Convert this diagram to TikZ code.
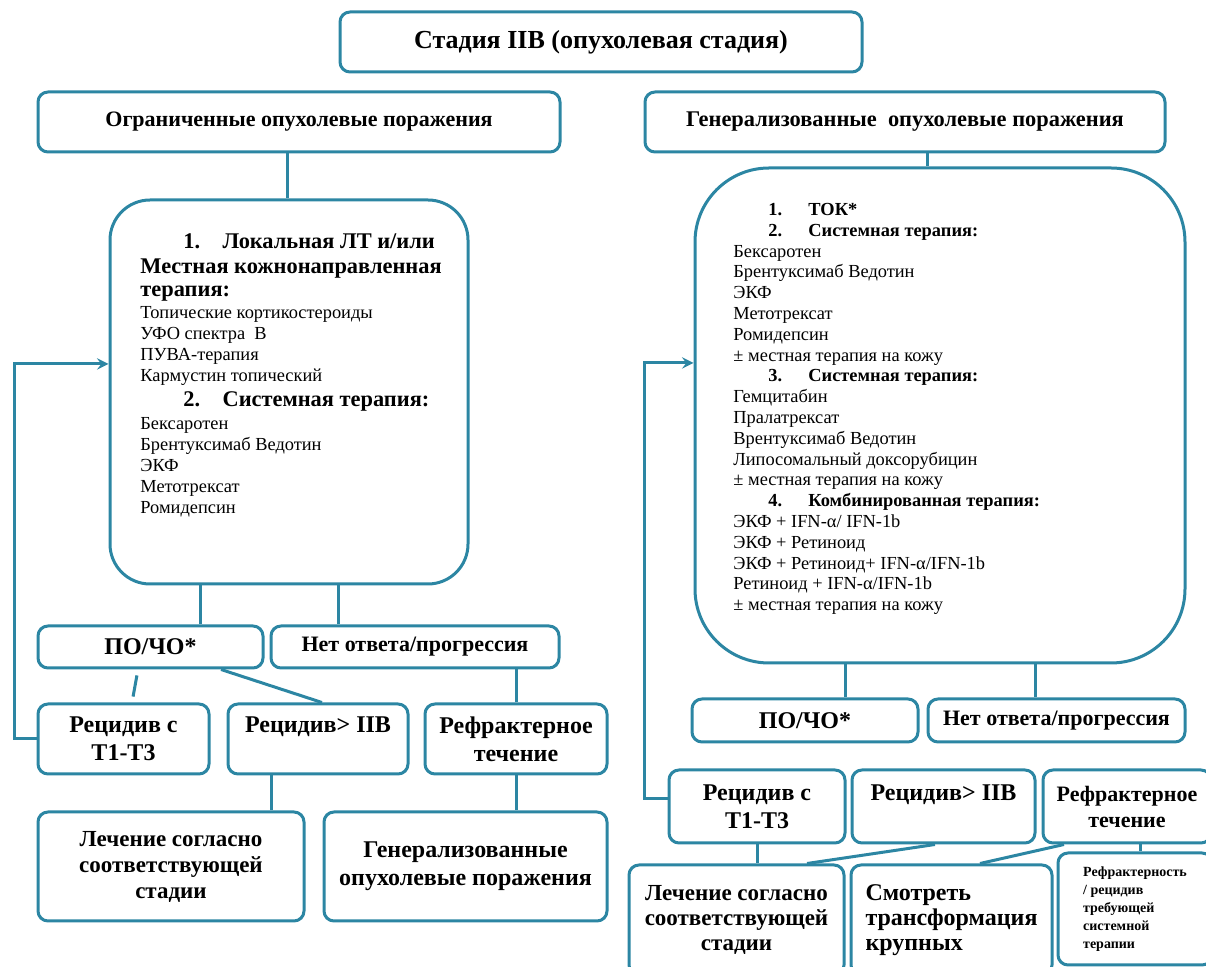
\documentclass[tikz,border=0pt]{standalone}
\usepackage{fontspec}
\setmainfont{Liberation Serif}
\usepackage{xcolor}
\usepackage{tikz}
\usetikzlibrary{shapes, arrows, positioning}

\definecolor{boxline}{RGB}{44,134,163}
\newcommand{\headline}[1]{{\fontsize{11.2}{12}\selectfont\bfseries #1}}
\newcommand{\tightlines}{\lineskiplimit=-10pt\relax}

\begin{document}
\begin{tikzpicture}[
        x=0.5pt, y=-0.5pt,
        box/.style={rectangle, draw=boxline, line width=1.5pt, fill=white, rounded corners=5pt, align=center, inner sep=2pt, font=\fontsize{12}{14}\selectfont\bfseries},
        bigbox/.style={box, rounded corners=20pt},
        listtext/.style={align=left, inner sep=0pt, anchor=north west},
        link/.style={draw=boxline, line width=1.5pt},
        arrow/.style={link, ->, >=stealth}
    ]
    \useasboundingbox (0,0) rectangle (1206,967);

    \node [box, minimum width=261pt, minimum height=30pt, font=\fontsize{13}{15}\selectfont\bfseries] (stage) at (601,42) {Стадия IIB (опухолевая стадия)};
    \node [box, minimum width=261pt, minimum height=30pt, font=\fontsize{11}{13}\selectfont\bfseries] (limited) at (299,122) {Ограниченные опухолевые поражения};
    \node [box, minimum width=260pt, minimum height=30pt, font=\fontsize{11.2}{13}\selectfont\bfseries] (general) at (905,122) {Генерализованные\ \ опухолевые поражения};

    % left branch
    \node [bigbox, minimum width=179pt, minimum height=192pt] (lbig) at (289,392) {};
    \node [listtext, font=\fontsize{9.2}{10.5}\selectfont\tightlines] (llist) at (140,233) {%
        \hspace*{21.5pt}\headline{1.\hspace{1em}Локальная ЛТ и/или}\\[2pt]
        \headline{Местная кожнонаправленная}\\[1pt]
        \headline{терапия:}\\[0.5pt]
        Топические кортикостероиды\\
        УФО спектра\ \ В\\
        ПУВА-терапия\\
        Кармустин топический\\[2pt]
        \hspace*{21.5pt}\headline{2.\hspace{1em}Системная терапия:}\\[1pt]
        Бексаротен\\
        Брентуксимаб Ведотин\\
        ЭКФ\\
        Метотрексат\\
        Ромидепсин};

    \node [box, minimum width=112.5pt, minimum height=21pt] (lpo) at (150.5,647) {ПО/ЧО*};
    \node [box, minimum width=144pt, minimum height=21pt, font=\fontsize{11}{13}\selectfont\bfseries] (lno) at (415,647) {Нет ответа/прогрессия};

    \node [box, minimum width=85.5pt, minimum height=35pt] (lrec) at (123.5,739) {Рецидив с\\T1-T3};
    \node [box, minimum width=90pt, minimum height=35pt] (lrecb) at (318,739) {Рецидив> IIB\\ \mbox{}};
    \node [box, minimum width=91pt, minimum height=35pt] (lref) at (516,739) {Рефрактерное\\течение};

    \node [box, minimum width=133pt, minimum height=54.5pt, font=\fontsize{11.5}{13}\selectfont\bfseries] (lcure) at (171,866.5) {Лечение согласно\\соответствующей\\стадии};
    \node [box, minimum width=141.5pt, minimum height=54.5pt] (lgen) at (465.5,866.5) {Генерализованные\\опухолевые поражения};

    % right branch
    \node [bigbox, rounded corners=37pt, minimum width=245pt, minimum height=247.5pt] (rbig) at (940,415.5) {};
    \node [listtext, font=\fontsize{9.2}{10.4}\selectfont\tightlines] (rlist) at (733,203) {%
        \hspace*{17.5pt}\makebox[20pt][l]{\bfseries 1.}\textbf{ТОК*}\\
        \hspace*{17.5pt}\makebox[20pt][l]{\bfseries 2.}\textbf{Системная терапия:}\\
        Бексаротен\\
        Брентуксимаб Ведотин\\
        ЭКФ\\
        Метотрексат\\
        Ромидепсин\\
        ± местная терапия на кожу\\
        \hspace*{17.5pt}\makebox[20pt][l]{\bfseries 3.}\textbf{Системная терапия:}\\
        Гемцитабин\\
        Пралатрексат\\
        Врентуксимаб Ведотин\\
        Липосомальный доксорубицин\\
        ± местная терапия на кожу\\
        \hspace*{17.5pt}\makebox[20pt][l]{\bfseries 4.}\textbf{Комбинированная терапия:}\\
        ЭКФ + IFN-α/ IFN-1b\\
        ЭКФ + Ретиноид\\
        ЭКФ + Ретиноид+ IFN-α/IFN-1b\\
        Ретиноид + IFN-α/IFN-1b\\
        ± местная терапия на кожу};

    \node [box, minimum width=113pt, minimum height=21.5pt] (rpo) at (805,720.5) {ПО/ЧО*};
    \node [box, minimum width=128.5pt, minimum height=21.5pt, font=\fontsize{11}{13}\selectfont\bfseries] (rno) at (1056.5,720.5) {Нет ответа/прогрессия};

    \node [box, minimum width=88pt, minimum height=36.5pt] (rrec) at (757,806.5) {Рецидив с\\T1-T3};
    \node [box, minimum width=91.5pt, minimum height=36.5pt] (rrecb) at (943.5,806.5) {Рецидив> IIB\\ \mbox{}};
    \node [box, minimum width=84pt, minimum height=36.5pt, font=\fontsize{11}{13}\selectfont\bfseries] (rref) at (1127,806.5) {Рефрактерное\\течение};

    \node [box, minimum width=107.5pt, minimum height=55pt, font=\fontsize{11.5}{12.5}\selectfont\bfseries] (rcure) at (736.5,920) {Лечение согласно\\соответствующей\\стадии};
    \node [box, align=left, minimum width=100.5pt, minimum height=55pt, font=\fontsize{12}{12.5}\selectfont\bfseries] (rsee) at (951.5,920) {Смотреть\\трансформация\\крупных};
    \node [box, align=left, minimum width=77pt, minimum height=56pt, font=\fontsize{7}{9}\selectfont\bfseries] (rrefr) at (1135,909) {Рефрактерность\\/ рецидив\\требующей\\системной\\терапии};

    % connectors
    \draw [link] ([xshift=-6pt]limited.south) -- ([xshift=-6pt]limited.south |- lbig.north);
    \draw [link] ([xshift=11pt]general.south) -- ([xshift=11pt]general.south |- rbig.north);

    \draw [link] ([xshift=24.75pt]lpo.north) -- ([xshift=24.75pt]lpo.north |- lbig.south);
    \draw [link] ([xshift=-38.5pt]lno.north) -- ([xshift=-38.5pt]lno.north |- lbig.south);
    \draw [link, shorten <=3pt, shorten >=3pt] ([xshift=-6.25pt]lpo.south) -- ([xshift=4.25pt]lrec.north);
    \draw [link] ([xshift=35.25pt]lpo.south) -- ([xshift=2pt]lrecb.north);
    \draw [link] (lref.north) -- (lref.north |- lno.south);
    \draw [link] ([xshift=-23.5pt]lrecb.south) -- ([xshift=-23.5pt]lrecb.south |- lcure.north);
    \draw [link] (lref.south) -- (lref.south |- lgen.north);
    \draw [arrow] (lrec.west) -- ++(-11pt,0) |- ([yshift=14pt]lbig.west);

    \draw [link] ([xshift=20pt]rpo.north) -- ([xshift=20pt]rpo.north |- rbig.south);
    \draw [link] ([xshift=-10.75pt]rno.north) -- ([xshift=-10.75pt]rno.north |- rbig.south);
    \draw [link] (rrec.south) -- (rrec.south |- rcure.north);
    \draw [link] ([xshift=-4.25pt]rrecb.south) -- ([xshift=35.25pt]rcure.north);
    \draw [link] ([xshift=-31.5pt]rref.south) -- ([xshift=14.25pt]rsee.north);
    \draw [link] ([xshift=6.5pt]rref.south) -- ([xshift=6.5pt]rref.south |- rrefr.north);
    \draw [arrow] ([yshift=4pt]rrec.west) -- ++(-11.5pt,0) |- ([yshift=26.25pt]rbig.west);

\end{tikzpicture}
\end{document}
